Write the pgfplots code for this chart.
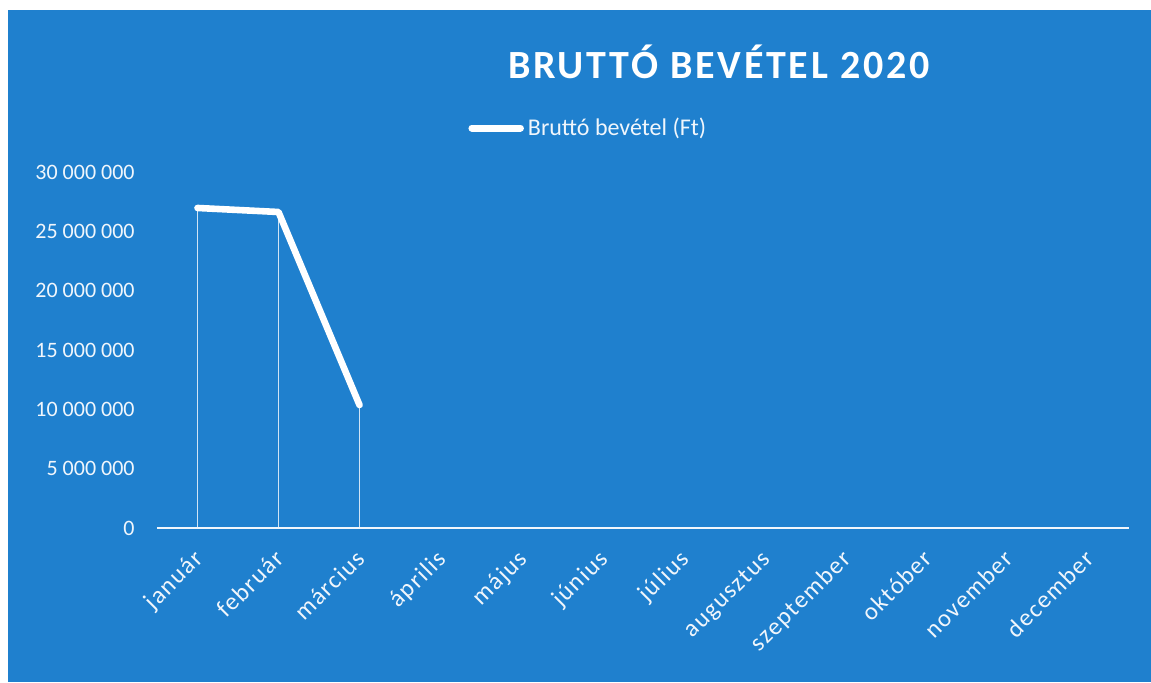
\documentclass[border=0pt]{standalone}
\usepackage{pgfplots}
\pgfplotsset{compat=1.18}
\usepackage{fontspec}
\setmainfont{Carlito}
\newfontfamily\titlefont[LetterSpace=7]{Carlito}
\newfontfamily\xlabfont[LetterSpace=6]{Carlito}
\definecolor{bgblue}{RGB}{31,128,206}
\definecolor{txt}{RGB}{240,246,252}
\begin{document}
\begin{tikzpicture}
\fill[white] (-78.5pt,-77pt) rectangle (497pt,264pt);
\fill[bgblue] (-74.5pt,-77pt) rectangle (497pt,259pt);
\begin{axis}[
  at={(0pt,0pt)}, anchor=south west,
  scale only axis, width=486pt, height=178pt,
  xmin=-0.5, xmax=11.5, ymin=0, ymax=30000000,
  clip=false, scaled y ticks=false,
  axis x line*=bottom, axis y line*=left,
  x axis line style={txt, line width=0.9pt},
  y axis line style={draw=none},
  tick style={draw=none},
  xtick={0,...,11},
  xticklabels={január,február,március,április,május,június,július,augusztus,szeptember,október,november,december},
  xticklabel style={xshift=3.5pt, yshift=-16pt, rotate=45, anchor=base east, inner sep=0pt, font=\xlabfont\fontsize{12.3pt}{14pt}\selectfont, text=txt},
  ytick={0,5000000,10000000,15000000,20000000,25000000,30000000},
  yticklabels={0,5 000 000,10 000 000,15 000 000,20 000 000,25 000 000,30 000 000},
  yticklabel style={anchor=east, inner sep=0pt, xshift=-11pt, font=\fontsize{11pt}{13pt}\selectfont, text=txt},
  title={BRUTTÓ BEVÉTEL 2020},
  title style={at={(axis description cs:0.578,1.229)}, anchor=base, font=\titlefont\bfseries\fontsize{20pt}{24pt}\selectfont, text=white},
  legend style={at={(axis description cs:0.32,1.1236)}, anchor=west, draw=none, fill=none, inner sep=0pt, font=\fontsize{12pt}{14pt}\selectfont, text=txt},
  legend image code/.code={\draw[line width=3.5pt, white, line cap=round] (1.75pt,0pt) -- (26pt,0pt);},
]
\addplot[ycomb, txt, line width=0.6pt, opacity=0.85, forget plot] coordinates {(0,26970000) (1,26630000) (2,10370000)};
\addplot[white, line width=3.3pt, line join=round, line cap=round] coordinates {(0,26970000) (1,26630000) (2,10370000)};
\addlegendentry{Bruttó bevétel (Ft)}
\end{axis}
\pgfresetboundingbox
\path[use as bounding box] (-78.5pt,-77pt) rectangle (497pt,264pt);
\end{tikzpicture}
\end{document}
